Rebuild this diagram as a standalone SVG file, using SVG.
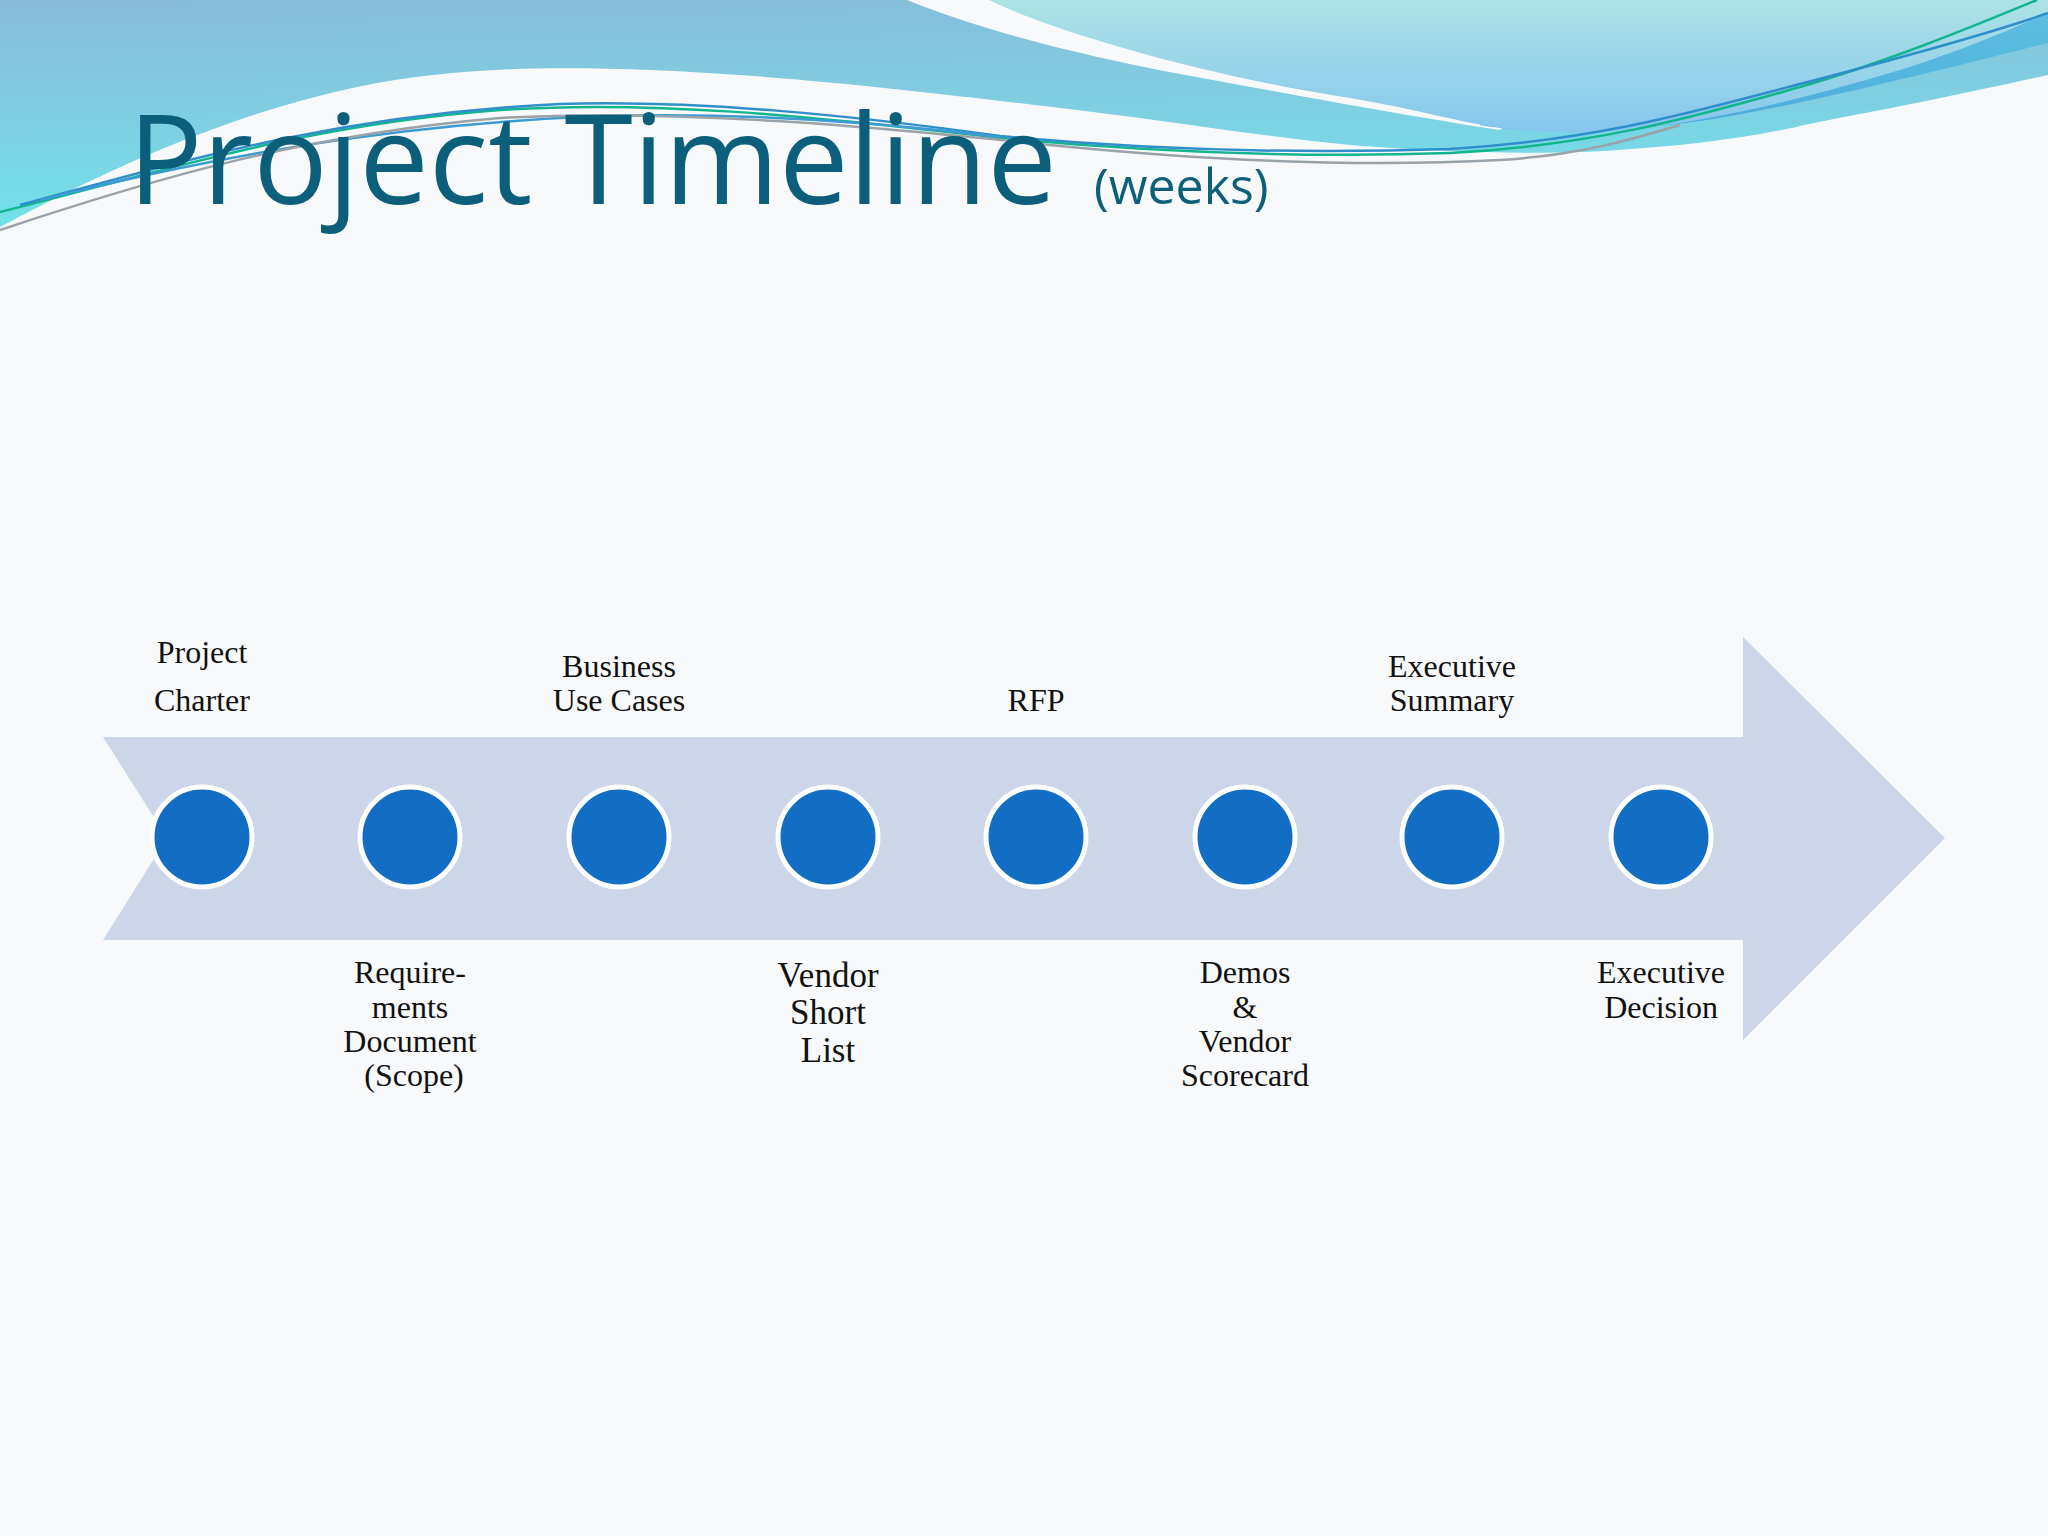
<svg xmlns="http://www.w3.org/2000/svg" width="2048" height="1536" viewBox="0 0 2048 1536">
<defs>
<linearGradient id="gLeft" x1="0" y1="0" x2="0.15" y2="1">
<stop offset="0" stop-color="#88BCD9"/>
<stop offset="0.55" stop-color="#7FCFE2"/>
<stop offset="1" stop-color="#6FE2EA"/>
</linearGradient>
<linearGradient id="gRight" x1="0" y1="0" x2="0" y2="1">
<stop offset="0" stop-color="#ACE3E5"/>
<stop offset="1" stop-color="#86C6EE"/>
</linearGradient>
<linearGradient id="gBand" x1="0" y1="1" x2="1" y2="0">
<stop offset="0" stop-color="#46A8DC"/>
<stop offset="1" stop-color="#5EBEDF"/>
</linearGradient>
<style>
.lbl{font-family:"Liberation Serif","Times New Roman",serif;font-size:32px;fill:#111;text-anchor:middle}
.big{font-size:35px}
.dot{fill:#126EC5;stroke:#FFFFFF;stroke-width:5}
.wave{fill:none;stroke-width:2.5}
</style>
</defs>
<rect width="2048" height="1536" fill="#F8F9FB"/>
<g id="header">
<path d="M0,0 H2048 V75 C1900,108 1850,115 1796,127 C1760,135 1700,145 1618,150 C1550,155 1450,153 1350,145 C1250,135 1150,118 1052,107 C950,95 800,76 650,70 C540,66 450,68 357,87 C200,120 60,195 0,227 Z" fill="url(#gLeft)"/>
<path d="M907,0 C980,30 1080,55 1180,74 C1300,96 1420,118 1500,130 L1620,0 Z" fill="#F8F9FB"/>
<path d="M1480,125 C1560,138 1650,128 1707,120 C1800,105 1900,80 2048,43 L2048,0 L1480,0 Z" fill="url(#gBand)"/>
<path d="M989,0 C1050,30 1200,75 1350,98 C1420,110 1460,122 1484,125 C1520,132 1560,133 1600,132 C1700,125 1800,100 1900,70 C1970,48 2020,25 2048,13 L2048,0 Z" fill="url(#gRight)"/>
<path class="wave" stroke="#13B58E" d="M0,212 C150,175 300,125 500,110 C650,100 800,115 1000,138 C1150,152 1300,158 1450,153 C1600,145 1700,115 1800,87 C1900,58 2000,15 2037,0"/>
<path class="wave" stroke="#2E8FCB" d="M20,205 C170,165 330,115 560,104 C700,100 850,115 1000,136 C1150,150 1300,154 1450,149 C1600,140 1700,110 1800,84 C1900,58 2000,30 2048,13"/>
<path class="wave" stroke="#3C9BD2" d="M40,200 C200,160 380,125 600,116 C750,112 880,122 1000,137"/>
<path class="wave" stroke="#9AA3A8" d="M0,230 C150,180 300,135 500,118 C700,108 900,130 1050,145 C1200,160 1350,168 1500,160 C1580,155 1630,140 1680,125"/>
<text x="128" y="204" font-family="'Open Sans','Noto Sans',sans-serif" font-size="124" fill="#0B5F7A">Project Timeline</text>
<text x="1094" y="204" font-family="'Open Sans','Noto Sans',sans-serif" font-size="50" fill="#0B5F7A">(weeks)</text>
</g>
<g id="timeline-arrow">
<path d="M103,737 L1743,737 L1743,637 L1945,838 L1743,1040 L1743,940 L103,940 L167,838 Z" fill="#CDD5E8"/>
</g>
<g id="node-project-charter">
<circle class="dot" cx="202" cy="837" r="50"/>
<text class="lbl" x="202" y="663">Project</text>
<text class="lbl" x="202" y="711">Charter</text>
</g>
<g id="node-requirements">
<circle class="dot" cx="410" cy="837" r="50"/>
<text class="lbl" x="410" y="983">Require-</text>
<text class="lbl" x="410" y="1018">ments</text>
<text class="lbl" x="410" y="1052">Document</text>
<text class="lbl" x="414" y="1086">(Scope)</text>
</g>
<g id="node-business-use-cases">
<circle class="dot" cx="619" cy="837" r="50"/>
<text class="lbl" x="619" y="677">Business</text>
<text class="lbl" x="619" y="711">Use Cases</text>
</g>
<g id="node-vendor-short-list">
<circle class="dot" cx="828" cy="837" r="50"/>
<text class="lbl big" x="828" y="987">Vendor</text>
<text class="lbl big" x="828" y="1024">Short</text>
<text class="lbl big" x="828" y="1062">List</text>
</g>
<g id="node-rfp">
<circle class="dot" cx="1036" cy="837" r="50"/>
<text class="lbl" x="1036" y="711">RFP</text>
</g>
<g id="node-demos">
<circle class="dot" cx="1245" cy="837" r="50"/>
<text class="lbl" x="1245" y="983">Demos</text>
<text class="lbl" x="1245" y="1018">&amp;</text>
<text class="lbl" x="1245" y="1052">Vendor</text>
<text class="lbl" x="1245" y="1086">Scorecard</text>
</g>
<g id="node-executive-summary">
<circle class="dot" cx="1452" cy="837" r="50"/>
<text class="lbl" x="1452" y="677">Executive</text>
<text class="lbl" x="1452" y="711">Summary</text>
</g>
<g id="node-executive-decision">
<circle class="dot" cx="1661" cy="837" r="50"/>
<text class="lbl" x="1661" y="983">Executive</text>
<text class="lbl" x="1661" y="1018">Decision</text>
</g>
</svg>
